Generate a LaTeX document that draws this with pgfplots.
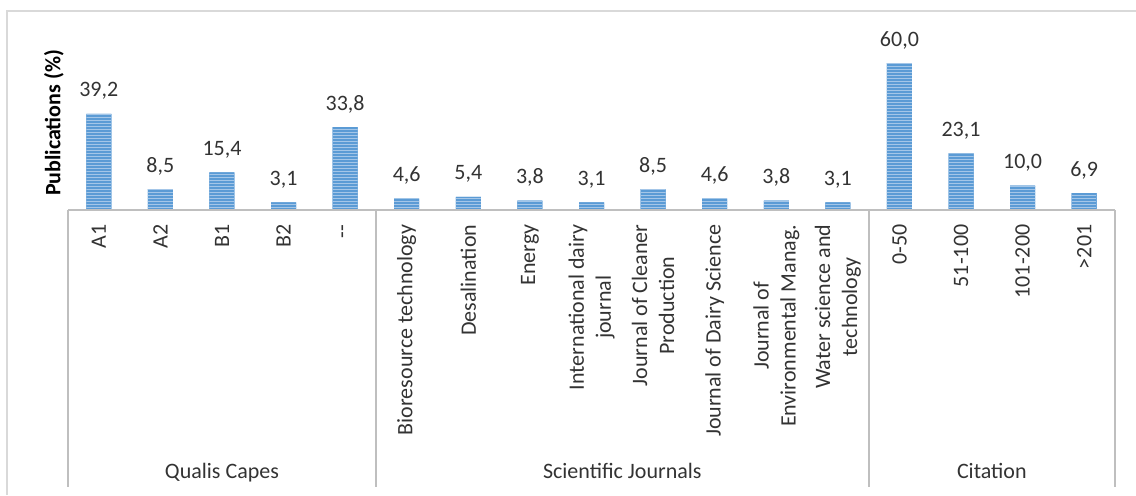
\documentclass[border=0pt]{standalone}
\usepackage{pgfplots}
\pgfplotsset{compat=1.18}
\usepackage{fontspec}
\setmainfont{Carlito}

\definecolor{barblue}{HTML}{5B9BD5}
\definecolor{stripe}{HTML}{A4C6E8}
\definecolor{axisgray}{HTML}{BFBFBF}
\definecolor{framegray}{HTML}{D9D9D9}
\definecolor{txt}{HTML}{333333}

% thin light horizontal rules across a bar
\tikzset{striped/.style={postaction={path picture={
  \foreach \k in {1,...,75}{
    \draw[stripe, line width=0.5pt]
      ([yshift=\k*1.5pt]path picture bounding box.south west) --
      ([yshift=\k*1.5pt]path picture bounding box.south east);
  }}}}}

\begin{document}
\begin{tikzpicture}
\useasboundingbox (0,0) rectangle (568pt,247.5pt);
% chart area frame
\draw[framegray, line width=0.6pt] (3.5pt,0) -- (3.5pt,242pt) -- (568pt,242pt);
\node[rotate=90, text=black, font=\bfseries\fontsize{11}{13}\selectfont] at (27pt,186pt) {Publications (\%)};
\begin{axis}[
  at={(34pt,142.5pt)}, anchor=south west,
  scale only axis, width=523.5pt, height=73.5pt,
  xmin=-0.5, xmax=16.5, ymin=0, ymax=60,
  enlargelimits=false, clip=false,
  axis line style={draw=none},
  ytick=\empty,
  xtick={0,...,16},
  xticklabels={A1,A2,B1,B2,-{}-,
    Bioresource technology,Desalination,Energy,
    {International dairy\\journal},{Journal of Cleaner\\Production},
    Journal of Dairy Science,{Journal of\\Environmental Manag.},
    {Water science and\\technology},
    0-50,51-100,101-200,>201},
  major tick length=0pt,
  xticklabel style={yshift=-3.8pt, rotate=90, anchor=east, align=center,
    text=txt, font=\fontsize{11}{13.5}\selectfont},
  ybar, bar width=12.5pt,
  nodes near coords,
  every node near coord/.append style={anchor=base, yshift=8.5pt,
    text=txt, font=\fontsize{11}{13}\selectfont},
  /pgf/number format/.cd, fixed, fixed zerofill, precision=1, use comma,
    assume math mode=true,
]
\addplot[fill=barblue, draw=none, striped]
  coordinates {
    (0,39.2) (1,8.5) (2,15.4) (3,3.1) (4,33.8)
    (5,4.6) (6,5.4) (7,3.8) (8,3.1) (9,8.5) (10,4.6) (11,3.8) (12,3.1)
    (13,60.0) (14,23.1) (15,10.0) (16,6.9)
  };
% category axis and group separators
\draw[axisgray, line width=1pt] (axis cs:-0.5,0) -- (axis cs:16.5,0);
\draw[axisgray, line width=1pt] (axis cs:-0.5,0) -- ([yshift=-138.5pt]axis cs:-0.5,0);
\draw[axisgray, line width=1pt] (axis cs:4.5,0) -- ([yshift=-138.5pt]axis cs:4.5,0);
\draw[axisgray, line width=1pt] (axis cs:12.5,0) -- ([yshift=-138.5pt]axis cs:12.5,0);
\draw[axisgray, line width=1pt] (axis cs:16.5,0) -- ([yshift=-138.5pt]axis cs:16.5,0);
% group names
\node[anchor=base, text=txt, font=\fontsize{11}{13}\selectfont] at ([yshift=-134pt]axis cs:2,0) {Qualis Capes};
\node[anchor=base, text=txt, font=\fontsize{11}{13}\selectfont] at ([yshift=-134pt]axis cs:8.5,0) {Scientific Journals};
\node[anchor=base, text=txt, font=\fontsize{11}{13}\selectfont] at ([yshift=-134pt]axis cs:14.5,0) {Citation};
\end{axis}
\end{tikzpicture}
\end{document}
